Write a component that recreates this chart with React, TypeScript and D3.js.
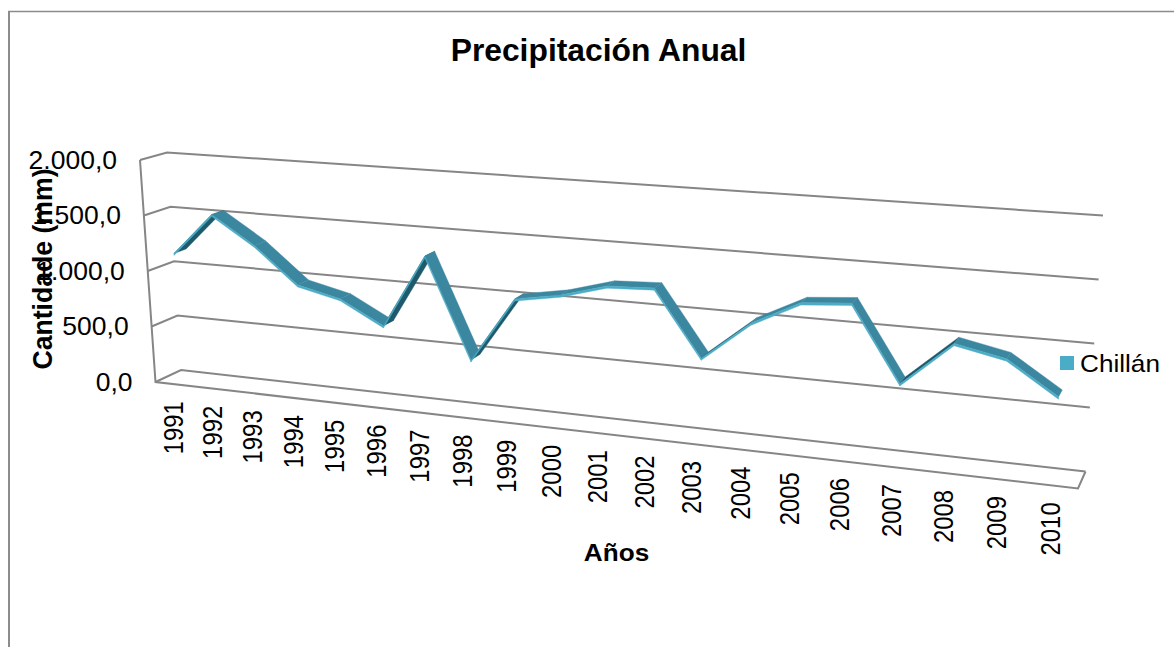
import React from "react";
import * as d3 from "d3";

const years = ["1991","1992","1993","1994","1995","1996","1997","1998","1999","2000","2001","2002","2003","2004","2005","2006","2007","2008","2009","2010"];
const rainfall = [1150,1530,1285,968,880,680,1318,462,1018,1085,1195,1213,672,995,1195,1228,625,982,900,646];
const yTicks = [0,500,1000,1500,2000];
const yTickLabels = ["0,0","500,0","1.000,0","1.500,0","2.000,0"];
const FONT = "'Liberation Sans', Arial, sans-serif";

type P = [number, number];
// screen corners of the chart's 3D box
const corners = {
  fl0: [155.5,382] as P, fl2: [140,160] as P, fr0: [1078,488.5] as P, fr2: [1096,226] as P,
  bl0: [181,370] as P, bl2: [167,152.5] as P, br0: [1085.5,471.5] as P, br2: [1103,215.5] as P,
};
const lerp = (a: P, b: P, t: number): P => [d3.interpolateNumber(a[0],b[0])(t), d3.interpolateNumber(a[1],b[1])(t)];
const vScale = d3.scaleLinear().domain([0,2000]).range([0,1]);
const uToS = (u: number, K: number) => u / (u + (1 - u) * K);
const xScale = d3.scaleLinear().domain([-0.5, years.length - 0.5]).range([0,1]);

function project(i: number, v: number, d: number, K = 1.18): P {
  const s = uToS(xScale(i), K);
  const t = vScale(v);
  const front = lerp(lerp(corners.fl0, corners.fr0, s), lerp(corners.fl2, corners.fr2, s), t);
  const back = lerp(lerp(corners.bl0, corners.br0, s), lerp(corners.bl2, corners.br2, s), t);
  return lerp(front, back, d);
}
const D0 = 0.28, D1 = 0.75, THICK = 18;
const line = d3.line<P>();
const poly = (pts: P[]) => line(pts)! + "Z";
const GRID = "#868686";

function Txt(p: {x:number;y:number;size:number;bold?:boolean;anchor?:string;rot?:number;sx?:number;children:string}) {
  const sx = p.sx ?? 1;
  return <text transform={`translate(${p.x},${p.y}) rotate(${p.rot ?? 0}) scale(${sx},1)`} fontFamily={FONT} fontSize={p.size}
    fontWeight={p.bold ? "bold" : "normal"} textAnchor={p.anchor ?? "middle"} fill="#000">{p.children}</text>;
}

export default function App() {
  const n = years.length;
  const left = -0.5, right = n - 0.5;
  return (
    <svg width={1174} height={647} style={{position:"absolute",left:0,top:0,display:"block",background:"#fff"}}>
      <path d="M1174,11.5H8" fill="none" stroke="#8c8c8c" strokeWidth={1.4}/>
      <path d="M9,11V647" fill="none" stroke="#8c8c8c" strokeWidth={2}/>
      <g fill="none" stroke={GRID} strokeWidth={2}>
        {yTicks.map(v => (
          <path key={v} d={line([project(left,v,0), project(left,v,1), project(right,v,1)])!}/>
        ))}
        <path d={line([project(left,2000,0), project(left,0,0), project(right,0,0), project(right,0,1)])!}/>
      </g>
      {rainfall.slice(0,-1).map((v,i) => {
        const w = rainfall[i+1];
        const rising = w > v;
        const top = poly([project(i,v,D0), project(i+1,w,D0), project(i+1,w,D1), project(i,v,D1)]);
        const front = poly([project(i,v,D0), project(i+1,w,D0), project(i+1,w-THICK,D0), project(i,v-THICK,D0)]);
        const steep = Math.abs(w-v) > 300;
        return (
          <g key={i}>
            <path d={top} fill={rising && steep ? "#1f5a6c" : "#3c87a0"} stroke={rising && steep ? "#1f5a6c" : "#3c87a0"} strokeWidth={0.4}/>
            <path d={front} fill="#4bacc6" stroke="#4bacc6" strokeWidth={0.4}/>
          </g>
        );
      })}
      {yTickLabels.map((t,i) => {
        const [x,y] = project(left, yTicks[i], 0);
        return <Txt key={t} x={x-23} y={y+8.5} size={25} sx={1.06} anchor="end">{t}</Txt>;
      })}
      {years.map((yr,i) => {
        const [x,y] = project(i,0,0,1.2);
        const f = i/(n-1);
        return <Txt key={yr} x={x+8.5+f*1.5} y={y+17} size={27} sx={0.885} rot={-90} anchor="end">{yr}</Txt>;
      })}
      <Txt x={598.5} y={61} size={31.8} bold>Precipitación Anual</Txt>
      <Txt x={51.5} y={269} size={28.5} sx={0.934} bold rot={-90}>Cantidade (mm)</Txt>
      <Txt x={616.5} y={560.5} size={24} sx={1.09} bold>Años</Txt>
      <rect x={1060} y={356} width={14} height={14} fill="#4bacc6"/>
      <Txt x={1080} y={372} size={24} sx={1.09} anchor="start">Chillán</Txt>
    </svg>
  );
}
